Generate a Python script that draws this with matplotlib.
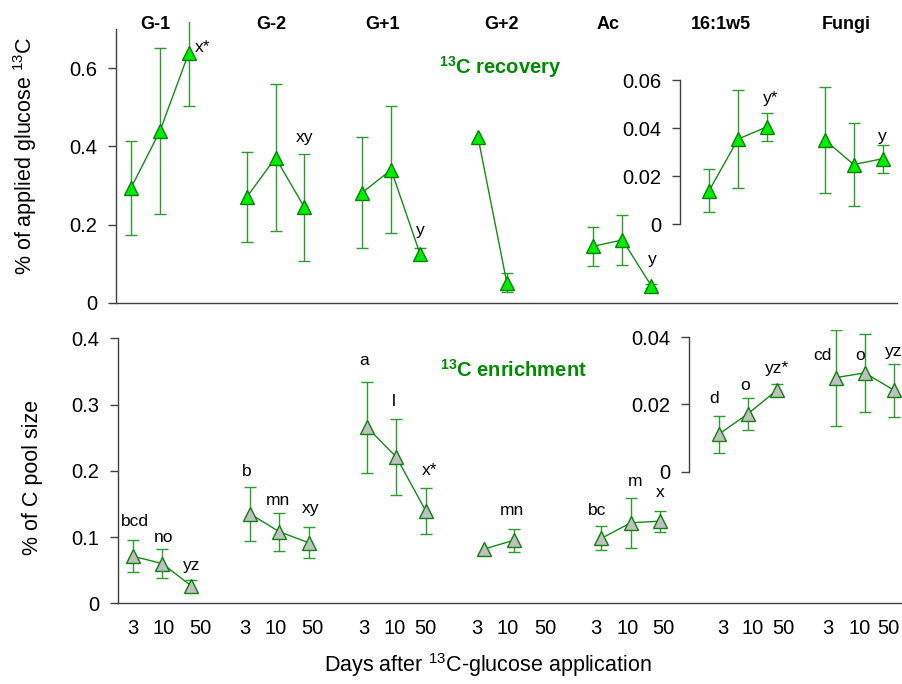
import numpy as np
import matplotlib
matplotlib.use("Agg")
import matplotlib.pyplot as plt
from matplotlib.ticker import FuncFormatter
import matplotlib.transforms as mtransforms

plt.rcParams["font.family"] = ["Liberation Sans", "DejaVu Sans"]
plt.rcParams["mathtext.fontset"] = "custom"
plt.rcParams["mathtext.rm"] = "Liberation Sans"
plt.rcParams["mathtext.it"] = "Liberation Sans:italic"
plt.rcParams["mathtext.bf"] = "Liberation Sans:bold"

# ---- data -------------------------------------------------------------
groups = ["G-1", "G-2", "G+1", "G+2", "Ac", "16:1w5", "Fungi"]
days = ["3", "10", "50"]
nan = np.nan

# 13C recovery (% of applied glucose 13C); last two groups on the inset axis
rec_mean = [
    [0.294, 0.439, 0.639],
    [0.270, 0.371, 0.244],
    [0.282, 0.340, 0.125],
    [0.425, 0.052, nan],
    [0.145, 0.161, 0.044],
    [0.0139, 0.0354, 0.0405],
    [0.0351, 0.0248, 0.0272],
]
rec_err = [
    [0.120, 0.211, 0.136],
    [0.1155, 0.1875, 0.1375],
    [0.1425, 0.1625, 0.016],
    [nan, 0.025, nan],
    [0.050, 0.0645, 0.005],
    [0.0090, 0.0203, 0.0059],
    [0.0221, 0.0172, 0.0059],
]
rec_letters = [
    ["", "", "x*"],
    ["", "", "xy"],
    ["", "", "y"],
    ["", "", ""],
    ["", "", "y"],
    ["", "", "y*"],
    ["", "", "y"],
]

# 13C enrichment (% of C pool size)
enr_mean = [
    [0.071, 0.060, 0.026],
    [0.135, 0.108, 0.0915],
    [0.2655, 0.2205, 0.1395],
    [0.082, 0.095, nan],
    [0.098, 0.1215, 0.124],
    [0.0111, 0.0172, 0.0243],
    [0.0280, 0.0294, 0.0242],
]
enr_err = [
    [0.0244, 0.0213, 0.009],
    [0.041, 0.029, 0.0235],
    [0.0685, 0.0575, 0.0345],
    [nan, 0.017, nan],
    [0.018, 0.0375, 0.016],
    [0.0056, 0.0047, 0.0017],
    [0.0143, 0.0117, 0.0078],
]
enr_letters = [
    ["bcd", "no", "yz"],
    ["b", "mn", "xy"],
    ["a", "l", "x*"],
    ["", "mn", ""],
    ["bc", "m", "x"],
    ["d", "o", "yz*"],
    ["cd", "o", "yz"],
]

# ---- layout / style ---------------------------------------------------
rec_offsets = [
    [(0, 0), (0, 0), (14, 5)],
    [(0, 0), (0, 0), (0, 70)],
    [(0, 0), (0, 0), (0, 24)],
    [(0, 0), (0, 0), (0, 0)],
    [(0, 0), (0, 0), (1, 26)],
    [(0, 0), (0, 0), (4, 28)],
    [(0, 0), (0, 0), (0, 22)],
]
enr_offsets = [
    [(2, 35), (1, 26), (0, 21)],
    [(-3, 42), (-1, 31), (2, 34)],
    [(-3, 67), (-3, 56), (4, 40)],
    [(0, 0), (-2, 30), (0, 0)],
    [(-4, 28), (4, 41), (0, 29)],
    [(-4, 36), (-3, 28), (0, 22)],
    [(-13, 22), (-5, 17), (-1, 39)],
]
# where the day labels sit under the lower panel (data units)
tick_x = [-0.02, 1.035, 2.31, 3.83, 4.885, 6.14, 7.90, 8.95, 9.98,
          11.74, 12.81, 14.08, 15.82, 16.91, 18.10, 20.15, 21.18, 22.21,
          23.74, 24.83, 25.79]
title_x = [0.83, 4.84, 8.69, 12.8, 16.5, 20.4, 24.74]
inset_x = 19.0
n_left = 5

line_c = "#138a13"
err_c = "#2f9a2f"
edge_c = "#0c800c"
spine_c = "#404040"
txt_green = "#008a00"

fig = plt.figure(figsize=(9.03, 6.84), dpi=100)
ax_top = fig.add_axes([0.12846, 0.55702, 0.86489, 0.41082])
ax_bot = fig.add_axes([0.13068, 0.11798, 0.86932, 0.39956])


def positions(g):
    return np.arange(3) + 4 * g


def fmt(v, _):
    return "%g" % v


def draw(ax, ax_in, means, errs, letters, offsets, face):
    for g in range(len(groups)):
        a = ax if g < n_left else ax_in
        x = positions(g)
        m = np.array(means[g], dtype=float)
        e = np.array(errs[g], dtype=float)
        a.errorbar(x, m, yerr=e, fmt="none", ecolor=err_c, elinewidth=1,
                   capsize=4.5, capthick=1, zorder=2)
        a.plot(x, m, color=line_c, lw=1, marker="^", ms=10.5,
               mfc=face, mec=edge_c, mew=1, zorder=3)
        for i in range(3):
            if letters[g][i]:
                dx, dy = offsets[g][i]
                a.annotate(letters[g][i], xy=(x[i], m[i]),
                           xytext=(dx * 0.72, dy * 0.72),
                           textcoords="offset points", ha="center",
                           va="center", fontsize=12.5, color="black",
                           zorder=4)


def style(ax, ax_in, ylim, ytop, yticks, inlim, intop, inticks, xlim):
    ax.set_xlim(*xlim)
    ax.set_ylim(*ylim)
    ax_in.set_ylim(*inlim)
    for s in ["top", "right"]:
        ax.spines[s].set_visible(False)
    for s in ["left", "bottom"]:
        ax.spines[s].set_color(spine_c)
        ax.spines[s].set_linewidth(1)
    ax.spines["left"].set_bounds(0, ytop)
    ax.set_yticks(yticks)
    ax.yaxis.set_major_formatter(FuncFormatter(fmt))
    ax.tick_params(axis="y", direction="out", length=6, width=1,
                   color=spine_c, pad=7.5, labelsize=14.5)

    for s in ["top", "right", "bottom"]:
        ax_in.spines[s].set_visible(False)
    sp = ax_in.spines["left"]
    sp.set_visible(True)
    sp.set_position(("data", inset_x))
    sp.set_bounds(0, intop)
    sp.set_color(spine_c)
    sp.set_linewidth(1)
    ax_in.yaxis.set_ticks_position("left")
    ax_in.yaxis.set_label_position("left")
    ax_in.set_yticks(inticks)
    ax_in.yaxis.set_major_formatter(FuncFormatter(fmt))
    ax_in.tick_params(axis="y", direction="out", length=6, width=1,
                      color=spine_c, pad=7.5, labelsize=14.5)


# ---- top panel: recovery ----------------------------------------------
ax_top_in = ax_top.twinx()
style(ax_top, ax_top_in, (0, 0.7175), 0.7, [0, 0.2, 0.4, 0.6],
      (-0.0329, 0.0842), 0.06, [0, 0.02, 0.04, 0.06], (-0.52, 26.5))
ax_top.set_xticks([])
draw(ax_top, ax_top_in, rec_mean, rec_err, rec_letters, rec_offsets, "#00ee00")

# ---- bottom panel: enrichment -----------------------------------------
ax_bot_in = ax_bot.twinx()
style(ax_bot, ax_bot_in, (0, 0.4125), 0.4, [0, 0.1, 0.2, 0.3, 0.4],
      (-0.03917, 0.04217), 0.04, [0, 0.02, 0.04], (-0.51, 26.3))
ax_bot.set_xticks(tick_x)
ax_bot.set_xticklabels(days * len(groups))
ax_bot.tick_params(axis="x", length=0, pad=11, labelsize=14.5)
draw(ax_bot, ax_bot_in, enr_mean, enr_err, enr_letters, enr_offsets, "#c0c0c0")

# ---- texts ------------------------------------------------------------
trans = mtransforms.blended_transform_factory(ax_top.transData, fig.transFigure)
for name, tx in zip(groups, title_x):
    fig.text(tx, 0.9635, name, transform=trans, ha="center", va="center",
             fontsize=13, fontweight="bold")

fig.text(500 / 903, 1 - 67 / 684, r"$^{\mathbf{13}}$C recovery", ha="center",
         va="center", fontsize=14.5, fontweight="bold", color=txt_green)
fig.text(513 / 903, 1 - 370 / 684, r"$^{\mathbf{13}}$C enrichment", ha="center",
         va="center", fontsize=14.5, fontweight="bold", color=txt_green)

fig.text(25 / 903, 1 - 156 / 684, r"% of applied glucose $^{13}$C",
         rotation=90, ha="center", va="center", fontsize=15.5)
fig.text(33 / 903, 1 - 477 / 684, "% of C pool size",
         rotation=90, ha="center", va="center", fontsize=15.5)
fig.text(488 / 903, 1 - 665 / 684, r"Days after $^{13}$C-glucose application",
         ha="center", va="center", fontsize=15.5)

fig.savefig("out.png", dpi=100)
